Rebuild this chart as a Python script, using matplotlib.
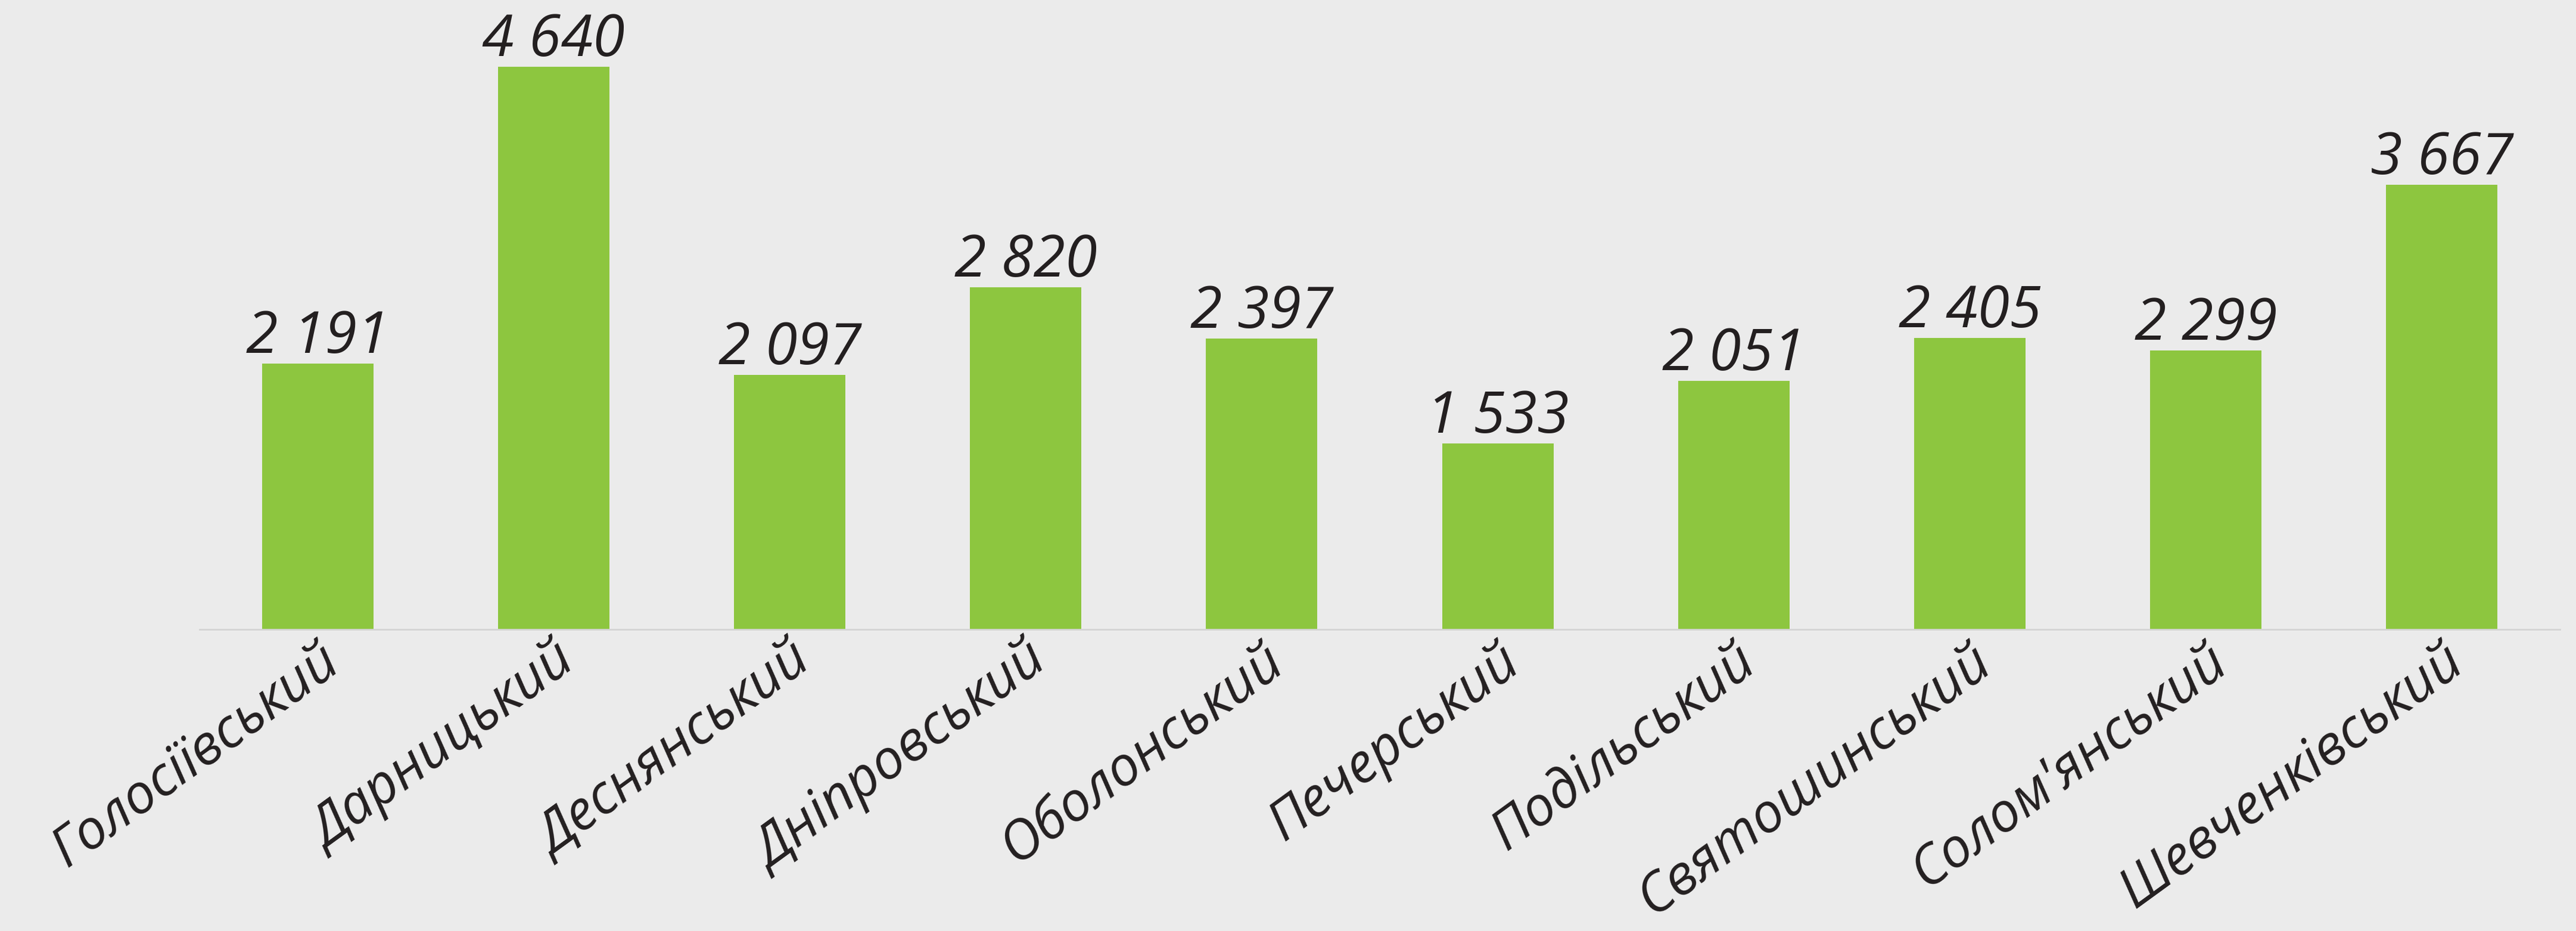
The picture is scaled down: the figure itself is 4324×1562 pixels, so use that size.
import matplotlib
matplotlib.use("Agg")
import matplotlib.pyplot as plt

districts = ["Голосіївський", "Дарницький", "Деснянський", "Дніпровський",
             "Оболонський", "Печерський", "Подільський", "Святошинський",
             "Солом'янський", "Шевченківський"]
values = [2191, 4640, 2097, 2820, 2397, 1533, 2051, 2405, 2299, 3667]
value_labels = ["2 191", "4 640", "2 097", "2 820", "2 397", "1 533",
                "2 051", "2 405", "2 299", "3 667"]

BG = "#EBEBEB"
BAR = "#8DC63F"
TXT = "#231F20"

plt.rcParams['font.family'] = ['Open Sans', 'DejaVu Sans']

W, H, DPI = 4324, 1562, 100
fig = plt.figure(figsize=(W / DPI, H / DPI), dpi=DPI, facecolor=BG)
ax = fig.add_axes([335 / W, (H - 1056) / H, (4297 - 335) / W, 1056 / H])
ax.set_facecolor(BG)

x = list(range(len(districts)))
bars = ax.bar(x, values, width=0.472, color=BAR, zorder=2)
ax.set_xlim(-0.5, len(districts) - 0.5)
ax.set_ylim(0, 5190)

for xi, v, lab in zip(x, values, value_labels):
    ax.annotate(lab, (xi, v), xytext=(0, 13), textcoords="offset points",
                ha="center", va="baseline", fontsize=70, style="italic",
                color=TXT)

for s in ["top", "right", "left"]:
    ax.spines[s].set_visible(False)
ax.spines["bottom"].set_color("#D4D4D4")
ax.spines["bottom"].set_linewidth(2)
ax.set_yticks([])
ax.set_xticks(x)
ax.set_xticklabels(districts, rotation=36, ha="right", va="top",
                   rotation_mode="anchor", fontsize=66, style="italic",
                   color=TXT)
ax.tick_params(axis="x", length=0, pad=6)

fig.savefig("out.png", dpi=DPI, facecolor=BG)
